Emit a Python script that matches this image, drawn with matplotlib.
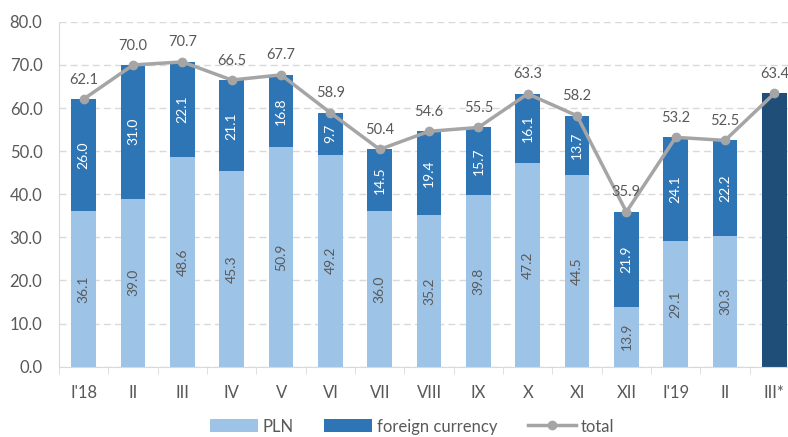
import matplotlib.pyplot as plt
import numpy as np

plt.rcParams['font.family'] = ['Lato', 'DejaVu Sans']

months = ["I'18", "II", "III", "IV", "V", "VI", "VII", "VIII", "IX", "X",
          "XI", "XII", "I'19", "II", "III*"]
pln = [36.1, 39.0, 48.6, 45.3, 50.9, 49.2, 36.0, 35.2, 39.8, 47.2,
       44.5, 13.9, 29.1, 30.3]
foreign = [26.0, 31.0, 22.1, 21.1, 16.8, 9.7, 14.5, 19.4, 15.7, 16.1,
           13.7, 21.9, 24.1, 22.2]
total = [62.1, 70.0, 70.7, 66.5, 67.7, 58.9, 50.4, 54.6, 55.5, 63.3,
         58.2, 35.9, 53.2, 52.5, 63.4]
estimate = 63.4

c_pln = "#9DC3E6"
c_for = "#2E75B6"
c_est = "#1F4E79"
c_line = "#A5A5A5"
c_text = "#595959"

fig = plt.figure(figsize=(7.88, 4.37), dpi=100)
ax = fig.add_axes([0.075, 0.161, 0.939, 0.789])

x = np.arange(len(months))
xs = x[:len(pln)]
w = 0.5

b1 = ax.bar(xs, pln, w, color=c_pln, label="PLN", zorder=2)
b2 = ax.bar(xs, foreign, w, bottom=pln, color=c_for, label="foreign currency", zorder=2)
ax.bar(x[-1], estimate, w, color=c_est, zorder=2)
ln, = ax.plot(x, total, color=c_line, lw=2.5, marker="o", ms=6, label="total", zorder=3)

for i in range(len(pln)):
    ax.text(xs[i], pln[i] / 2, f"{pln[i]:.1f}", rotation=90, ha="center",
            va="center", fontsize=10, color=c_text, zorder=4)
    ax.text(xs[i], pln[i] + foreign[i] / 2, f"{foreign[i]:.1f}", rotation=90,
            ha="center", va="center", fontsize=10, color="white", zorder=4)
for i, v in enumerate(total):
    ax.annotate(f"{v:.1f}", (x[i], v), xytext=(0, 14), textcoords="offset points",
                ha="center", va="center", fontsize=10.5, color=c_text, zorder=4)

ax.set_xlim(-0.5, len(months) - 0.5)
ax.set_ylim(0, 80)
ax.set_yticks(np.arange(0, 81, 10))
ax.set_yticklabels([f"{v:.1f}" for v in np.arange(0, 81, 10)])
ax.set_xticks(x)
ax.set_xticklabels(months)
ax.set_xticks(np.arange(-0.5, len(months), 1), minor=True)
ax.tick_params(axis="x", which="major", length=0, pad=13, labelsize=12, colors=c_text)
ax.tick_params(axis="x", which="minor", length=5, color="#D9D9D9")
ax.tick_params(axis="y", length=0, pad=12, labelsize=12, colors=c_text)

ax.grid(axis="y", color="#D9D9D9", ls=(0, (5, 3)), lw=1, zorder=0)
for s in ["top", "right"]:
    ax.spines[s].set_visible(False)
for s in ["left", "bottom"]:
    ax.spines[s].set_color("#D9D9D9")

fig.legend([b1, b2, ln], ["PLN", "foreign currency", "total"], loc="center",
           bbox_to_anchor=(0.523, 0.024), ncol=3, frameon=False,
           fontsize=12, handlelength=2.9, handleheight=0.8, columnspacing=1.8,
           handletextpad=0.3, labelcolor=c_text)

fig.savefig("out.png", dpi=100)
